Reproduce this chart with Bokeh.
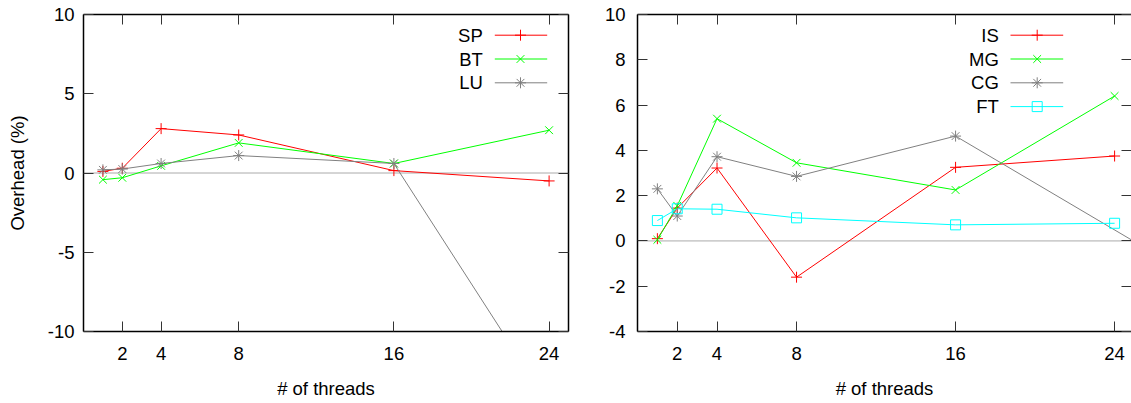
from bokeh.plotting import figure
from bokeh.layouts import row
from bokeh.models import Range1d, LinearAxis, FixedTicker, Span
from bokeh.embed import file_html
from bokeh.resources import INLINE
from bokeh.core.properties import value

# ---- data ----
threads = [1, 2, 4, 8, 16, 24]
cg_threads = [1, 2, 4, 8, 16, 32]
x_ticks = [2, 4, 8, 16, 24]
left_y_ticks = [-10, -5, 0, 5, 10]
right_y_ticks = [-4, -2, 0, 2, 4, 6, 8, 10]

sp = [0.1, 0.3, 2.8, 2.4, 0.15, -0.5]
bt = [-0.42, -0.3, 0.45, 1.9, 0.6, 2.7]
lu = [0.2, 0.25, 0.6, 1.1, 0.6, -14.6]

is_ = [0.1, 1.45, 3.22, -1.6, 3.25, 3.75]
mg = [0.05, 1.55, 5.4, 3.45, 2.25, 6.4]
cg = [2.3, 1.1, 3.72, 2.85, 4.63, -3.66]
ft = [0.9, 1.42, 1.4, 1.02, 0.71, 0.78]

left_names = ["SP", "BT", "LU"]
right_names = ["IS", "MG", "CG", "FT"]

FONT = "Liberation Sans"
FS = "18.5px"
RED, GREEN, GRAY, CYAN = "#ff0000", "#00ff00", "#808080", "#00ffff"


def style_axis(ax, ticks, labels=True, standoff=10):
    ax.ticker = FixedTicker(ticks=ticks)
    ax.major_tick_in = 10
    ax.major_tick_out = 0
    ax.minor_tick_in = 0
    ax.minor_tick_out = 0
    ax.major_tick_line_color = "#333333"
    ax.major_tick_line_width = 1
    ax.axis_line_color = "black"
    ax.axis_line_width = 1.5
    ax.major_label_text_font = FONT
    ax.axis_label_text_font = FONT
    ax.axis_label_text_font_size = FS
    ax.axis_label_text_font_style = "normal"
    ax.axis_label_text_color = "black"
    if labels:
        ax.major_label_text_font_size = FS
        ax.major_label_text_color = "black"
        ax.major_label_standoff = standoff
        ax.major_label_overrides = {t: str(t) for t in ticks}
    else:
        ax.major_label_text_font_size = "1px"
        ax.major_label_text_color = None
        ax.major_label_standoff = 0


def make_fig(width, frame_w, xmax, ymin, ymax, yticks, mb_left, mb_right, ystand, ylabel=None, right_line=True):
    p = figure(width=width, height=403, output_backend="svg", toolbar_location=None,
               x_range=Range1d(0, xmax), y_range=Range1d(ymin, ymax),
               min_border_left=mb_left, min_border_right=mb_right,
               min_border_top=14, min_border_bottom=72)
    p.extra_x_ranges = {"leg": Range1d(0, frame_w)}
    p.extra_y_ranges = {"leg": Range1d(317, 0)}
    p.outline_line_color = None
    p.xgrid.visible = False
    p.ygrid.visible = False
    p.background_fill_color = "white"
    p.border_fill_color = "white"
    style_axis(p.xaxis[0], x_ticks, True, 15)
    p.xaxis[0].axis_label = "# of threads"
    p.xaxis[0].axis_label_standoff = 15
    style_axis(p.yaxis[0], yticks, True, ystand)
    if ylabel:
        p.yaxis[0].axis_label = ylabel
        p.yaxis[0].axis_label_standoff = 17
    top = LinearAxis()
    style_axis(top, x_ticks, False)
    p.add_layout(top, "above")
    rgt = LinearAxis()
    style_axis(rgt, yticks, False)
    if not right_line:
        rgt.axis_line_color = None
    p.add_layout(rgt, "right")
    p.add_layout(Span(location=0, dimension="width", line_color="#aaaaaa", line_width=1, level="underlay"))
    return p


def add_series(p, xs, ys, color, marker, size):
    p.line(xs, ys, line_color=color, line_width=1)
    p.scatter(xs, ys, marker=marker, size=size, line_color=color, fill_color=None, line_width=1)


def add_legend(p, names, colors, markers, sizes, text_x, line_x0, line_x1, mark_x, rows):
    for name, color, marker, size, yy in zip(names, colors, markers, sizes, rows):
        p.text([text_x], [yy], text=[name], text_align="right", text_baseline="middle",
               text_font=value(FONT), text_font_size=FS, text_color="black",
               x_range_name="leg", y_range_name="leg")
        p.line([line_x0, line_x1], [yy, yy], line_color=color, line_width=1,
               x_range_name="leg", y_range_name="leg")
        p.scatter([mark_x], [yy], marker=marker, size=size, line_color=color, fill_color=None,
                  line_width=1, x_range_name="leg", y_range_name="leg")


rows_y = [20.7, 44.5, 68.3, 92.1]

# left plot
p1 = make_fig(600, 485, 25, -10, 10, left_y_ticks, 83, 32, 9, ylabel="Overhead (%)")
add_series(p1, threads, sp, RED, "cross", 11)
add_series(p1, threads, bt, GREEN, "x", 11)
add_series(p1, threads, lu, GRAY, "asterisk", 11)
add_legend(p1, left_names, [RED, GREEN, GRAY], ["cross", "x", "asterisk"], [11, 11, 11],
           399.3, 411.3, 463.7, 437.0, rows_y[:3])

# right plot
p2 = make_fig(531, 494, 24.85, -4, 10, right_y_ticks, 37, 0, 12, right_line=False)
add_series(p2, threads, is_, RED, "cross", 11)
add_series(p2, threads, mg, GREEN, "x", 11)
add_series(p2, cg_threads, cg, GRAY, "asterisk", 11)
add_series(p2, threads, ft, CYAN, "square", 10)
add_legend(p2, right_names, [RED, GREEN, GRAY, CYAN], ["cross", "x", "asterisk", "square"],
           [11, 11, 11, 10], 361.3, 373.0, 425.7, 399.7, rows_y)

layout = row(p1, p2)
open("out.html", "w").write(file_html(layout, INLINE))
